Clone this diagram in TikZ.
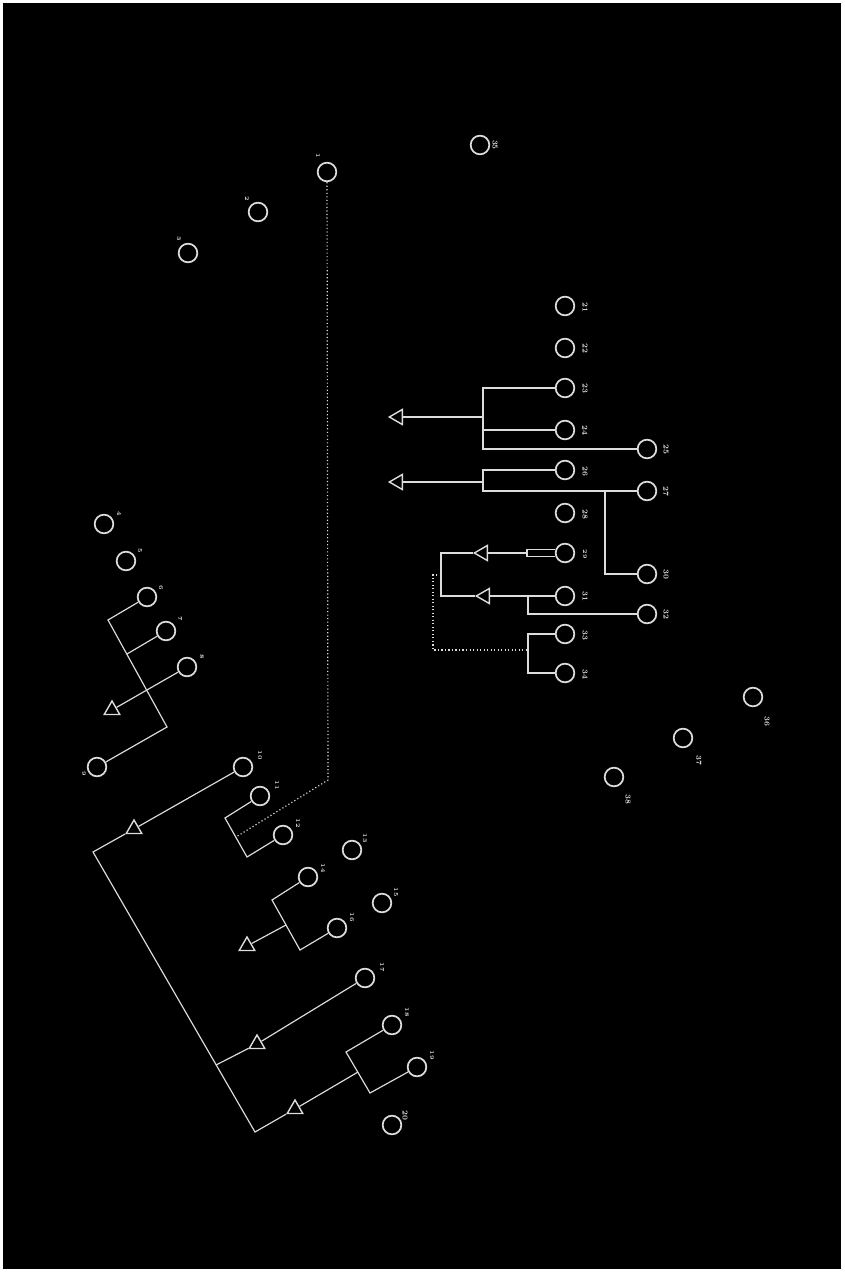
\documentclass[tikz,border=0pt]{standalone}
\usepackage{tikz}
\usetikzlibrary{shapes.geometric,positioning}
\definecolor{chalk}{HTML}{DCDCDC}

\tikzset{
  ind/.style={circle,draw=chalk,line width=1.5pt,minimum size=0.56cm,inner sep=0},
  trileft/.style={regular polygon,regular polygon sides=3,shape border rotate=90,draw=chalk,line width=1.2pt,minimum size=0.52cm,inner sep=0},
  triup/.style={regular polygon,regular polygon sides=3,draw=chalk,line width=1.2pt,minimum size=0.54cm,inner sep=0},
  ln/.style={draw=chalk,line width=1pt},
  dotln/.style={draw=chalk,line width=1pt,dotted},
  lab/.style={text=chalk,font=\fontsize{5}{5}\selectfont\bfseries,inner sep=0,rotate=-90},
  labr/.style={text=chalk,font=\fontsize{6.5}{6.5}\selectfont\bfseries,inner sep=0,rotate=-90}
}

\begin{document}
\begin{tikzpicture}[x=0.03cm,y=-0.03cm]
% frame
\fill[white] (0,0) rectangle (844,1272);
\fill[black] (3,3) rectangle (841,1269);
\useasboundingbox (0,0) rectangle (844,1272);

% individuals
\foreach \n/\x/\y in {a1/480/145, a2/327/172, a3/258/212, a4/188/253,
    r1/565/306, r2/565/348, r3/565/388, r4/565/430, r5/647/449, r6/565/470,
    r7/647/491, r8/565/513, r9/565/553, r10/647/574, r11/565/596, r12/647/614,
    r13/565/634, r14/565/673, e1/753/697, e2/683/738, e3/614/777,
    l1/104/524, l2/126/561, l3/147/597, l4/166/631, l5/187/667, l6/97/767,
    m0/243/767, m1/260/796, m2/283/835, m3/352/850, m4/308/877, m5/382/903,
    m6/337/928, m7/365/978, m8/392/1025, m9/417/1067, m10/392/1125}
  \node[ind] (\n) at (\x,\y) {};

% numbers
\foreach \n/\x/\y/\t in {a2l/318/156/1, a3l/247/199/2, a4l/179/239/3,
    l1l/119/514/4, l2l/140/551/5, l3l/161/588/6, l4l/180/619/7, l5l/202/657/8, l6l/84/774/9,
    m0l/260/755/10, m1l/277/785/11, m2l/298/823/12, m3l/365/838/13, m4l/323/868/14,
    m5l/396/892/15, m6l/352/917/16, m7l/382/967/17, m8l/407/1012/18, m9l/432/1055/19,
    r9l/585/554/29}
  \node[lab] (\n) at (\x,\y) {\t};
\foreach \n/\x/\y/\t in {a1l/495/145/35, m10l/405/1115/20,
    r1l/585/307/21, r2l/585/348/22, r3l/585/388/23, r4l/585/430/24, r5l/666/449/25,
    r6l/585/471/26, r7l/666/491/27, r8l/585/514/28, r10l/666/574/30, r11l/585/596/31,
    r12l/666/614/32, r13l/585/635/33, r14l/585/674/34,
    e1l/767/721/36, e2l/699/760/37, e3l/628/799/38}
  \node[labr] (\n) at (\x,\y) {\t};

% triangles
\node[trileft] (t1) at (398,417) {};
\node[trileft] (t2) at (398,482) {};
\node[trileft] (t3) at (483,553) {};
\node[trileft] (t4) at (485,596) {};
\node[triup] (u1) at (112,710) {};
\node[triup] (u2) at (134,829) {};
\node[triup] (u3) at (247,946) {};
\node[triup] (u4) at (257,1044) {};
\node[triup] (u5) at (295,1109) {};

% bends
\coordinate (b1) at (483,417);
\coordinate (b2) at (483,482);
\coordinate (j1) at (605,491);
\coordinate (b3) at (527,553);
\coordinate (j2) at (528,596);
\coordinate (b5) at (441,575);
\coordinate (d1) at (433,575);
\coordinate (b6) at (528,650);
\coordinate (v1) at (328,780);
\coordinate (k1) at (108,620);
\coordinate (k2) at (167,727);
\coordinate (k3) at (127,654);
\coordinate (n1) at (225,818);
\coordinate (n2) at (247,857);
\coordinate (n3) at (236,837);
\coordinate (p1) at (272,900);
\coordinate (p2) at (300,950);
\coordinate (p3) at (286,925);
\coordinate (q1) at (93,852);
\coordinate (q2) at (255,1132);
\coordinate (q3) at (216,1065);
\coordinate (s1) at (346,1052);
\coordinate (s2) at (370,1093);
\coordinate (s3) at (358,1072);

% right column
\draw[ln] (r3.west) -| (b1) (r4.west) -| (b1) (r5.west) -| (b1) (b1) -- (t1);
\draw[ln] (r6.west) -| (b2) (r7.west) -| (b2) (b2) -- (t2);
\draw[ln] (j1) |- (r10);
\draw[ln] (r9.160) -| (b3) (r9.200) -| (b3) (b3) -- (t3);
\draw[ln] (r11) -- (t4);
\draw[ln] (j2) |- (r12);
\draw[ln] (t3.corner 1) -| (b5) |- (t4.corner 1);
\draw[ln] (r13.west) -| (b6) (r14.west) -| (b6);
\draw[dotln] (b5) -- (d1) |- (b6);

% long dotted link
\draw[dotln] (a2) -- (v1) -- (n3);

% left group
\draw[ln] (l3) -- (k1) -- (k2) -- (l6);
\draw[ln] (l4) -- (k3);
\draw[ln] (l5) -- (u1);

% lower tree
\draw[ln] (m1) -- (n1) -- (n2) -- (m2);
\draw[ln] (m4) -- (p1) -- (p2) -- (m6);
\draw[ln] (p3) -- (u3);
\draw[ln] (m0) -- (u2) -- (q1) -- (q2) -- (u5) -- (s3);
\draw[ln] (m7) -- (u4) -- (q3);
\draw[ln] (m8) -- (s1) -- (s2) -- (m9);
\end{tikzpicture}
\end{document}
